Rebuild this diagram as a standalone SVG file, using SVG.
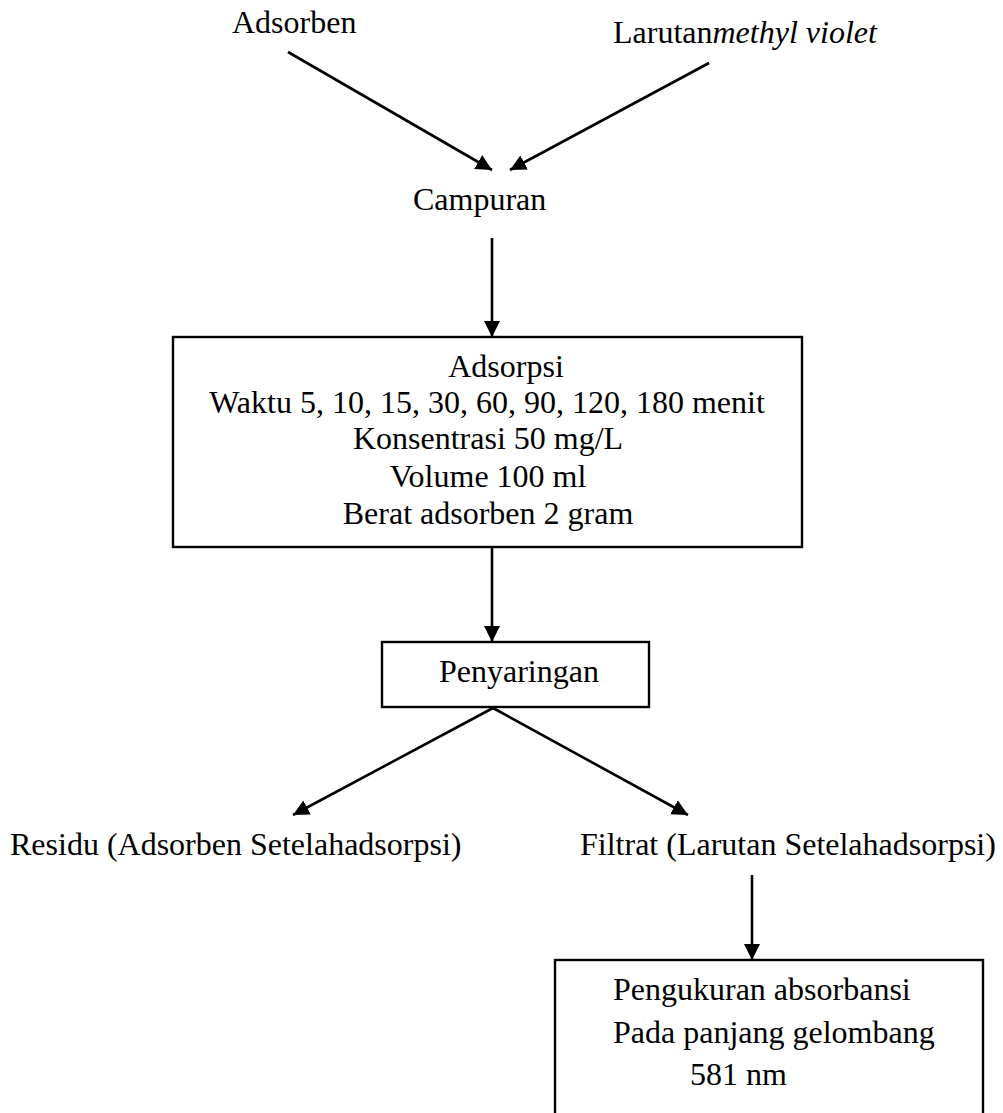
<svg xmlns="http://www.w3.org/2000/svg" width="1003" height="1113" viewBox="0 0 1003 1113">
<style>
text{font-family:"Liberation Serif","Times New Roman",serif;font-size:32px;fill:#000}
.box{fill:#fff;stroke:#000;stroke-width:2.4}
.edge{stroke:#000;stroke-width:2.6;fill:none;marker-end:url(#ah)}
</style>
<defs>
<marker id="ah" markerUnits="userSpaceOnUse" markerWidth="17" markerHeight="17" refX="16" refY="8" orient="auto">
<path d="M0,0 L16,8 L0,16 z" fill="#000"/>
</marker>
</defs>
<rect width="1003" height="1113" fill="#fff"/>
<g id="connectors">
<line class="edge" x1="288" y1="52" x2="492" y2="170"/>
<line class="edge" x1="709" y1="63" x2="510" y2="170"/>
<line class="edge" x1="492" y1="238" x2="492" y2="337"/>
<line class="edge" x1="492" y1="547" x2="492" y2="642"/>
<line class="edge" x1="493" y1="708" x2="293" y2="815"/>
<line class="edge" x1="493" y1="708" x2="688" y2="815"/>
<line class="edge" x1="752" y1="875" x2="752" y2="960"/>
</g>
<g id="adsorben"><text x="232" y="33">Adsorben</text></g>
<g id="larutan"><text x="613" y="43">Larutan<tspan font-style="italic">methyl violet</tspan></text></g>
<g id="campuran"><text x="413" y="210">Campuran</text></g>
<g id="adsorpsi">
<rect class="box" x="173" y="337" width="629" height="210"/>
<text x="506" y="377" text-anchor="middle">Adsorpsi</text>
<text x="487" y="413" text-anchor="middle">Waktu 5, 10, 15, 30, 60, 90, 120, 180 menit</text>
<text x="488" y="449" text-anchor="middle">Konsentrasi 50 mg/L</text>
<text x="488" y="487" text-anchor="middle">Volume 100 ml</text>
<text x="488" y="524" text-anchor="middle">Berat adsorben 2 gram</text>
</g>
<g id="penyaringan">
<rect class="box" x="382" y="642" width="267" height="65"/>
<text x="439" y="682">Penyaringan</text>
</g>
<g id="residu"><text x="10" y="855">Residu (Adsorben Setelahadsorpsi)</text></g>
<g id="filtrat"><text x="580" y="855">Filtrat (Larutan Setelahadsorpsi)</text></g>
<g id="pengukuran">
<rect class="box" x="555" y="960" width="428" height="200"/>
<text x="613" y="1000">Pengukuran absorbansi</text>
<text x="613" y="1043">Pada panjang gelombang</text>
<text x="690" y="1085">581 nm</text>
</g>
</svg>
